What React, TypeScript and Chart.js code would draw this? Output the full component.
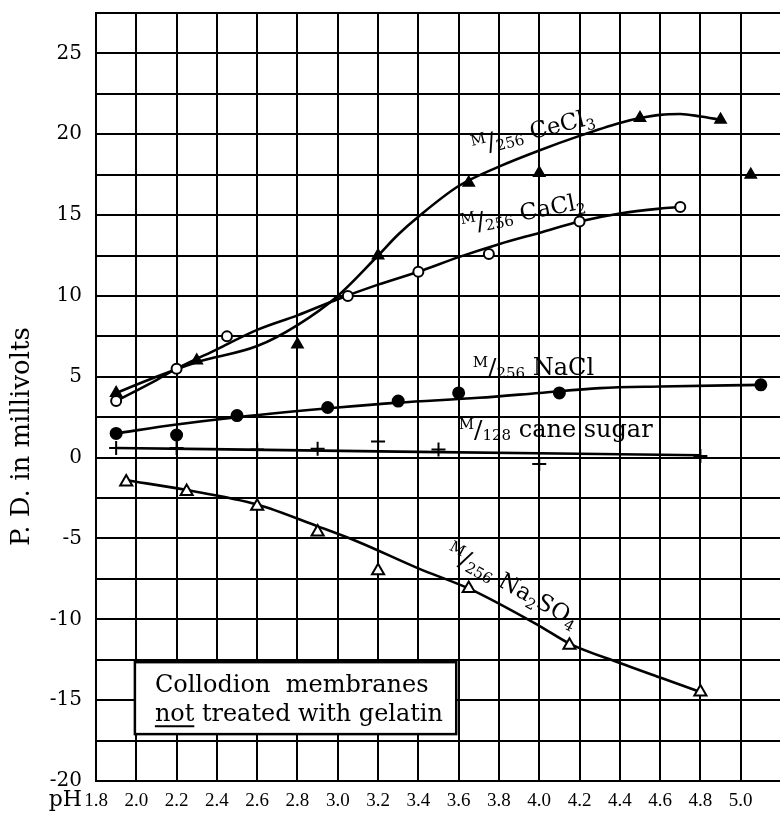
import React, { useEffect, useRef } from "react";
import { Chart, registerables } from "chart.js";
Chart.register(...registerables);

const FONT = "'DejaVu Serif', serif";

// x tick labels (pH)
const xTickValues = [1.8, 2.0, 2.2, 2.4, 2.6, 2.8, 3.0, 3.2, 3.4, 3.6, 3.8, 4.0, 4.2, 4.4, 4.6, 4.8, 5.0];
const yTickValues = [-20, -15, -10, -5, 0, 5, 10, 15, 20, 25];

// M/256 CeCl3 (filled triangles)
const ceX = [1.9, 2.3, 2.8, 3.2, 3.65, 4.0, 4.5, 4.9, 5.05];
const ceY = [4.0, 6.0, 7.0, 12.5, 17.0, 17.6, 21.0, 20.9, 17.5];
const ceCurveX = [1.9, 2.1, 2.3, 2.6, 2.8, 3.0, 3.2, 3.3, 3.4, 3.6, 3.8, 4.0, 4.2, 4.4, 4.5, 4.6, 4.7, 4.8, 4.9];
const ceCurveY = [4.0, 5.0, 5.9, 6.9, 8.2, 10.0, 12.5, 13.8, 14.9, 16.8, 18.0, 19.0, 19.9, 20.7, 21.0, 21.2, 21.25, 21.1, 20.9];

// M/256 CaCl2 (open circles)
const caX = [1.9, 2.2, 2.45, 3.05, 3.4, 3.75, 4.2, 4.7];
const caY = [3.5, 5.5, 7.5, 10.0, 11.5, 12.6, 14.6, 15.5];
const caCurveX = [1.9, 2.1, 2.2, 2.4, 2.6, 2.8, 3.0, 3.2, 3.4, 3.6, 3.8, 4.0, 4.2, 4.4, 4.6, 4.7];
const caCurveY = [3.5, 4.8, 5.5, 6.7, 7.9, 8.8, 9.8, 10.7, 11.5, 12.4, 13.2, 13.9, 14.6, 15.1, 15.4, 15.5];

// M/256 NaCl (filled circles)
const naX = [1.9, 2.2, 2.5, 2.95, 3.3, 3.6, 4.1, 5.1];
const naY = [1.5, 1.4, 2.6, 3.1, 3.5, 4.0, 4.0, 4.5];
const naCurveX = [1.9, 2.2, 2.5, 3.0, 3.3, 3.7, 4.0, 4.3, 4.6, 5.1];
const naCurveY = [1.5, 2.05, 2.5, 3.1, 3.4, 3.7, 4.0, 4.3, 4.4, 4.5];

// M/128 cane sugar (+)
const suX = [1.9, 2.2, 2.6, 2.9, 3.2, 3.5, 4.0, 4.8];
const suY = [0.6, 0.6, 0.5, 0.55, 1.0, 0.5, -0.4, 0.1];
const suCurveX = [1.9, 3.3, 4.8];
const suCurveY = [0.6, 0.37, 0.15];

// M/256 Na2SO4 (open triangles)
const soX = [1.95, 2.25, 2.6, 2.9, 3.2, 3.65, 4.15, 4.8];
const soY = [-1.5, -2.1, -3.0, -4.6, -7.0, -8.1, -11.6, -14.5];
const soCurveX = [1.95, 2.25, 2.6, 2.9, 3.1, 3.4, 3.66, 4.0, 4.15, 4.4, 4.6, 4.8];
const soCurveY = [-1.4, -2.0, -2.9, -4.25, -5.2, -6.85, -8.15, -10.4, -11.5, -12.7, -13.6, -14.5];

const pts = (xs: number[], ys: number[]) => xs.map((x, i) => ({ x, y: ys[i] }));

type Piece = { t: string; s: number; dy: number };
const frac = (den: string): Piece[] => [
  { t: "M", s: 15, dy: -8 },
  { t: "/", s: 25, dy: 1 },
  { t: den, s: 15, dy: 3 },
];

function drawPieces(ctx: CanvasRenderingContext2D, pieces: Piece[], x: number, y: number, angleDeg: number) {
  ctx.save();
  ctx.translate(x, y);
  ctx.rotate((angleDeg * Math.PI) / 180);
  ctx.fillStyle = "#000";
  ctx.textBaseline = "alphabetic";
  ctx.textAlign = "left";
  let cx = 0;
  for (const p of pieces) {
    ctx.font = `${p.s}px ${FONT}`;
    ctx.fillText(p.t, cx, p.dy);
    cx += ctx.measureText(p.t).width;
  }
  ctx.restore();
}

const annotations = {
  id: "annotations",
  afterDatasetsDraw(chart: any) {
    const ctx: CanvasRenderingContext2D = chart.ctx;
    const xs = chart.scales.x;
    const ys = chart.scales.y;
    const px = (v: number) => xs.getPixelForValue(v);
    const py = (v: number) => ys.getPixelForValue(v);

    // series labels
    drawPieces(ctx, [...frac("256"), { t: " CeCl", s: 23, dy: 0 }, { t: "3", s: 15, dy: 5 }], px(3.675), py(18.8), -14);
    drawPieces(ctx, [...frac("256"), { t: " CaCl", s: 23, dy: 0 }, { t: "2", s: 15, dy: 5 }], px(3.62), py(13.95), -11);
    drawPieces(ctx, [...frac("256"), { t: " NaCl", s: 24, dy: 0 }], px(3.67), py(5.12), 0);
    drawPieces(ctx, [...frac("128"), { t: " cane sugar", s: 24, dy: 0 }], px(3.6), py(1.3), 0);
    drawPieces(
      ctx,
      [...frac("256"), { t: " Na", s: 23, dy: 0 }, { t: "2", s: 15, dy: 5 }, { t: "SO", s: 23, dy: 0 }, { t: "4", s: 15, dy: 5 }],
      px(3.53),
      py(-6.1),
      29
    );

    // note box
    const bx0 = px(1.993), bx1 = px(3.588), by0 = py(-12.65), by1 = py(-17.1);
    ctx.save();
    ctx.fillStyle = "#fff";
    ctx.fillRect(bx0, by0, bx1 - bx0, by1 - by0);
    ctx.strokeStyle = "#000";
    ctx.lineWidth = 2.5;
    ctx.strokeRect(bx0, by0, bx1 - bx0, by1 - by0);
    ctx.fillStyle = "#000";
    ctx.font = `24px ${FONT}`;
    ctx.textBaseline = "alphabetic";
    ctx.textAlign = "left";
    const tx = bx0 + 20;
    ctx.fillText("Collodion  membranes", tx, by0 + 30, 290);
    ctx.fillText("not treated with gelatin", tx, by0 + 59, 288);
    const full = ctx.measureText("not treated with gelatin").width;
    const scale = Math.min(1, 288 / full);
    const w = ctx.measureText("not").width * scale;
    ctx.lineWidth = 2;
    ctx.beginPath();
    ctx.moveTo(tx, by0 + 64);
    ctx.lineTo(tx + w, by0 + 64);
    ctx.stroke();
    ctx.restore();

    // y axis title
    ctx.save();
    ctx.translate(22, py(1.3));
    ctx.rotate(-Math.PI / 2);
    ctx.font = `26px ${FONT}`;
    ctx.fillStyle = "#000";
    ctx.textAlign = "center";
    ctx.textBaseline = "middle";
    ctx.fillText("P. D. in millivolts", 0, 0);
    ctx.restore();

    // pH label
    ctx.save();
    ctx.font = `22px ${FONT}`;
    ctx.fillStyle = "#000";
    ctx.textAlign = "right";
    ctx.textBaseline = "middle";
    ctx.fillText("pH", 82, ys.bottom + 19);
    ctx.restore();
  },
};

export default function App() {
  const ref = useRef<HTMLCanvasElement | null>(null);
  useEffect(() => {
    if (!ref.current) return;
    const markerBase = { showLine: false, borderColor: "#000", borderWidth: 2 };
    const curveBase = {
      showLine: true,
      pointRadius: 0,
      borderColor: "#000",
      borderWidth: 2.6,
      cubicInterpolationMode: "monotone" as const,
      fill: false,
    };
    const chart = new Chart(ref.current, {
      type: "line",
      data: {
        datasets: [
          { ...markerBase, label: "CeCl3 pts", data: pts(ceX, ceY), pointStyle: "triangle", pointRadius: 6, pointBackgroundColor: "#000" },
          { ...markerBase, label: "CaCl2 pts", data: pts(caX, caY), pointStyle: "circle", pointRadius: 5, pointBackgroundColor: "#fff" },
          { ...markerBase, label: "NaCl pts", data: pts(naX, naY), pointStyle: "circle", pointRadius: 5.5, pointBackgroundColor: "#000" },
          { ...markerBase, label: "sugar pts", data: pts(suX, suY), pointStyle: "cross", pointRadius: 7, pointBackgroundColor: "#000" },
          { ...markerBase, label: "Na2SO4 pts", data: pts(soX, soY), pointStyle: "triangle", pointRadius: 7, pointBackgroundColor: "#fff" },
          { ...curveBase, label: "CeCl3", data: pts(ceCurveX, ceCurveY) },
          { ...curveBase, label: "CaCl2", data: pts(caCurveX, caCurveY) },
          { ...curveBase, label: "NaCl", data: pts(naCurveX, naCurveY) },
          { ...curveBase, label: "sugar", data: pts(suCurveX, suCurveY) },
          { ...curveBase, label: "Na2SO4", data: pts(soCurveX, soCurveY) },
        ] as any,
      },
      options: {
        animation: false,
        responsive: false,
        devicePixelRatio: 1,
        layout: { padding: { left: 0, right: 5.5, top: 13, bottom: 0 } },
        plugins: { legend: { display: false }, tooltip: { enabled: false }, title: { display: false } },
        scales: {
          x: {
            type: "linear",
            min: 1.8,
            max: 5.2,
            afterFit: (s: any) => {
              s.height = 33;
              s.paddingLeft = 0;
              s.paddingRight = 0;
            },
            afterBuildTicks: (s: any) => {
              s.ticks = [...xTickValues, 5.2].map((v) => ({ value: v }));
            },
            ticks: {
              autoSkip: false,
              maxRotation: 0,
              padding: 9,
              color: "#000",
              font: { family: "'Liberation Serif', serif", size: 19 },
              callback: (v: any) => {
                const r = Math.round(Number(v) * 10) / 10;
                return xTickValues.includes(r) ? r.toFixed(1) : "";
              },
            },
            grid: { color: "#000", lineWidth: 2, drawTicks: false },
            border: { display: true, color: "#000", width: 2 },
          },
          y: {
            min: -20,
            max: 27.5,
            afterFit: (s: any) => {
              s.width = 96;
              s.paddingTop = 0;
              s.paddingBottom = 0;
            },
            afterBuildTicks: (s: any) => {
              const t: any[] = [];
              for (let v = -20; v <= 27.5; v += 2.5) t.push({ value: v });
              s.ticks = t;
            },
            ticks: {
              autoSkip: false,
              padding: 14,
              color: "#000",
              font: { family: FONT, size: 20 },
              callback: (v: any) => (yTickValues.includes(Number(v)) ? String(v) : ""),
            },
            grid: { color: "#000", lineWidth: 2, drawTicks: false },
            border: { display: true, color: "#000", width: 2 },
          },
        },
      },
      plugins: [annotations],
    });
    return () => chart.destroy();
  }, []);
  return (
    <div style={{ position: "fixed", left: 0, top: 0, width: 780, height: 814, overflow: "hidden", background: "#fff" }}>
      <canvas ref={ref} width={790} height={814} style={{ display: "block", width: 790, height: 814 }} />
    </div>
  );
}
